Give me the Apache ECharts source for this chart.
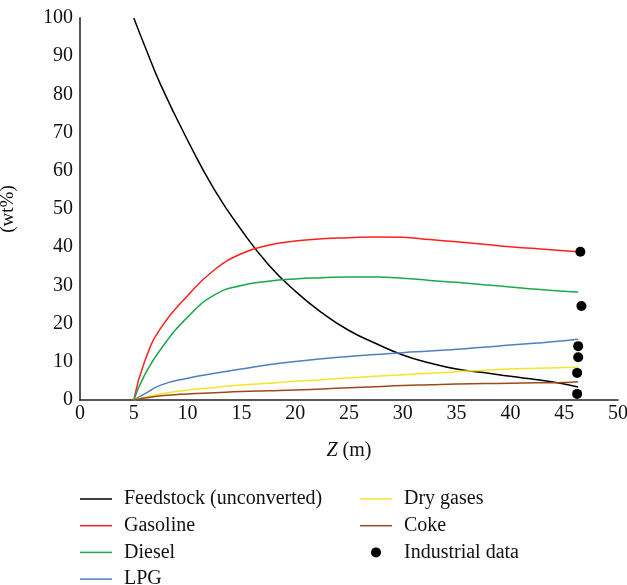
<!DOCTYPE html>
<html>
<head>
<meta charset="utf-8">
<script src="https://cdn.jsdelivr.net/npm/echarts@6/dist/echarts.min.js"></script>
<style>html,body{margin:0;padding:0;background:#fff;}#c{width:627px;height:585px;}</style>
</head>
<body>
<div id="c"></div>
<script>
var zValues = [5, 6, 7.5, 10, 12.5, 15, 17.5, 20, 22.5, 25, 27.5, 30, 32.5, 35, 37.5, 40, 42.5, 45, 46.3];
var feedstock = [100, 92.8, 82.5, 68, 55, 44.5, 35.5, 28.5, 22.8, 18.2, 14.8, 11.8, 9.7, 8.1, 7.2, 6.2, 5.3, 4.2, 3.4];
var gasoline = [0, 10, 18.8, 27.3, 34.1, 38.3, 40.5, 41.6, 42.2, 42.5, 42.7, 42.6, 42.0, 41.4, 40.8, 40.1, 39.6, 39.1, 38.8];
var diesel = [0, 6.5, 13.3, 21.7, 27.5, 30.0, 31.1, 31.7, 32.0, 32.2, 32.2, 31.9, 31.3, 30.8, 30.2, 29.6, 29.0, 28.5, 28.3];
var lpg = [0, 1.6, 3.9, 5.7, 7.0, 8.1, 9.2, 10.1, 10.8, 11.4, 11.9, 12.4, 12.8, 13.3, 13.8, 14.4, 14.9, 15.5, 15.9];
var dryGases = [0, 0.7, 1.6, 2.6, 3.3, 3.9, 4.4, 4.9, 5.3, 5.8, 6.2, 6.6, 7.0, 7.4, 7.8, 8.1, 8.3, 8.5, 8.6];
var coke = [0, 0.5, 1.1, 1.6, 1.9, 2.2, 2.4, 2.6, 2.9, 3.2, 3.5, 3.8, 4.0, 4.2, 4.3, 4.4, 4.5, 4.6, 4.8];
var industrialZ = [46.5, 46.6, 46.3, 46.3, 46.2, 46.2];
var industrialY = [38.8, 24.6, 14.1, 11.2, 7.1, 1.6];
var xTicks = [0, 5, 10, 15, 20, 25, 30, 35, 40, 45, 50];
var yTicks = [0, 10, 20, 30, 40, 50, 60, 70, 80, 90, 100];

function pairs(xs, ys) { return xs.map(function (x, i) { return [x, ys[i]]; }); }

var FONT = 'Liberation Serif';
var chart = echarts.init(document.getElementById('c'), null, {renderer: 'canvas', width: 627, height: 585});

function lineSeries(name, data, color) {
  return {
    name: name, type: 'line', data: pairs(zValues, data), smooth: 0.5,
    symbol: 'none', lineStyle: {color: color, width: 1.5}, itemStyle: {color: color},
    animation: false, z: 2
  };
}

var LINE_ICON = 'path://M0,0 L32,0 L32,1.5 L0,1.5 Z';
var legendText = {fontFamily: FONT, fontSize: 20, color: '#111', padding: [0, 0, 0, 7]};

var option = {
  backgroundColor: '#ffffff',
  animation: false,
  textStyle: {fontFamily: FONT},
  grid: {left: 80, right: 9, top: 18, bottom: 185, containLabel: false, outerBoundsMode: 'none'},
  xAxis: {
    type: 'value', min: 0, max: 50, interval: 5,
    axisLine: {show: true, onZero: false, lineStyle: {color: '#222', width: 1.5}},
    axisTick: {show: false}, splitLine: {show: false},
    axisLabel: {color: '#111', fontFamily: FONT, fontSize: 20, margin: 4,
      formatter: function (v) { return xTicks.indexOf(v) >= 0 ? String(v) : ''; }},
    name: '{i|Z} (m)', nameLocation: 'middle', nameGap: 41,
    nameTextStyle: {color: '#111', fontFamily: FONT, fontSize: 20,
      rich: {i: {fontStyle: 'italic', fontFamily: FONT, fontSize: 20, color: '#111'}}}
  },
  yAxis: {
    type: 'value', min: 0, max: 100, interval: 10,
    axisLine: {show: true, lineStyle: {color: '#555', width: 2}},
    axisTick: {show: false}, splitLine: {show: false},
    axisLabel: {color: '#111', fontFamily: FONT, fontSize: 20, margin: 7,
      formatter: function (v) { return yTicks.indexOf(v) >= 0 ? String(v) : ''; }},
    name: '(wt%)', nameLocation: 'middle', nameGap: 62, nameRotate: 90,
    nameTextStyle: {color: '#111', fontFamily: FONT, fontSize: 19}
  },
  legend: [
    {
      orient: 'vertical', left: 80, top: 489, height: 120, padding: 0,
      itemWidth: 32, itemHeight: 10, itemGap: 6.7,
      icon: LINE_ICON, textStyle: legendText,
      data: ['Feedstock (unconverted)', 'Gasoline', 'Diesel', 'LPG']
    },
    {
      orient: 'vertical', left: 360, top: 489, height: 120, padding: 0,
      itemWidth: 32, itemHeight: 10, itemGap: 6.7,
      textStyle: legendText,
      data: [
        {name: 'Dry gases', icon: LINE_ICON},
        {name: 'Coke', icon: LINE_ICON},
        {name: 'Industrial data', icon: 'circle'}
      ]
    }
  ],
  series: [
    lineSeries('Feedstock (unconverted)', feedstock, '#000000'),
    lineSeries('Gasoline', gasoline, '#ff1f1f'),
    lineSeries('Diesel', diesel, '#1aa84b'),
    lineSeries('LPG', lpg, '#4f7fbf'),
    lineSeries('Dry gases', dryGases, '#f2e52a'),
    lineSeries('Coke', coke, '#9c4a1c'),
    {
      name: 'Industrial data', type: 'scatter', data: pairs(industrialZ, industrialY),
      symbol: 'circle', symbolSize: 10, itemStyle: {color: '#000000', opacity: 1}, z: 5, animation: false
    }
  ]
};
chart.setOption(option);
</script>
</body>
</html>
